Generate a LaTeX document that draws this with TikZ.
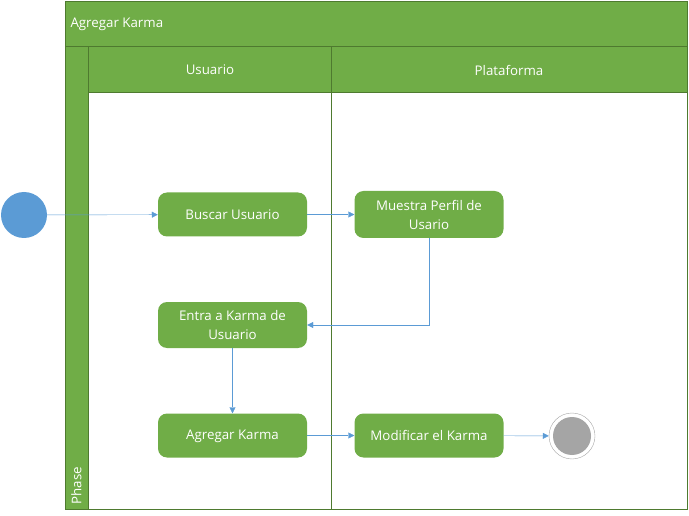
\documentclass[tikz,border=0pt]{standalone}
\usepackage{fontspec}
\setmainfont{Open Sans}
\usetikzlibrary{arrows.meta}

\definecolor{lanegreen}{HTML}{70AD47}
\definecolor{edgegreen}{HTML}{4E7A2F}
\definecolor{flowblue}{HTML}{5B9BD5}
\definecolor{endgray}{HTML}{A5A5A5}

\begin{document}
\begin{tikzpicture}[x=1pt,y=-1pt,
	activity/.style={fill=lanegreen,draw=none,rounded corners=9pt,minimum width=149pt,minimum height=44pt,text=white,font=\fontsize{13.3}{19}\selectfont,align=center,inner sep=2pt},
	lanehead/.style={fill=lanegreen,draw=edgegreen,thin},
	lanetext/.style={text=white,font=\fontsize{13.3}{19}\selectfont},
	flow/.style={draw=flowblue,thin,-{Triangle[length=6pt,width=6pt]}}]
		\useasboundingbox (0,0) rectangle (689,516);

		% pool and lanes
		\draw[lanehead] (65,1) rectangle (687,46);
		\draw[lanehead] (65,46) rectangle (88,509);
		\draw[lanehead] (88,46) rectangle (331,92);
		\draw[lanehead] (331,46) rectangle (687,92);
		\draw[draw=edgegreen,thin] (88,92) rectangle (331,509);
		\draw[draw=edgegreen,thin] (331,92) rectangle (687,509);

		\node[lanetext,anchor=west] (pool) at (67,24){Agregar Karma};
		\node[lanetext] (usuario) at (210,70){Usuario};
		\node[lanetext] (plataforma) at (509,70){Plataforma};
		\node[lanetext,anchor=west,rotate=90] (phase) at (76.5,508){Phase};

		% start and end
		\node[circle,fill=flowblue,minimum size=46pt,inner sep=0pt] (start) at (24,215){};
		\node[circle,draw=endgray,thin,fill=white,minimum size=46pt,inner sep=0pt] (stop) at (572,436){};
		\node[circle,fill=endgray,minimum size=38pt,inner sep=0pt] (stopin) at (572,436){};

		% activities
		\node[activity] (buscar) at (232.5,214.5){Buscar Usuario};
		\node[activity,minimum height=47pt] (muestra) at (429,214.5){Muestra Perfil de\\Usario};
		\node[activity,minimum height=46pt] (entra) at (232.5,325){Entra a Karma de\\Usuario};
		\node[activity,text depth=1pt] (agregar) at (232.5,435.5){Agregar Karma};
		\node[activity] (modificar) at (429,435.5){Modificar el Karma};

		\draw[flow] (start) -- (buscar);
		\draw[flow] (buscar) -- (muestra);
		\draw[flow] (muestra.south) |- (entra.east);
		\draw[flow] (entra) -- (agregar);
		\draw[flow] (agregar) -- (modificar);
		\draw[flow] (modificar) -- (stop);

	\end{tikzpicture}
\end{document}
